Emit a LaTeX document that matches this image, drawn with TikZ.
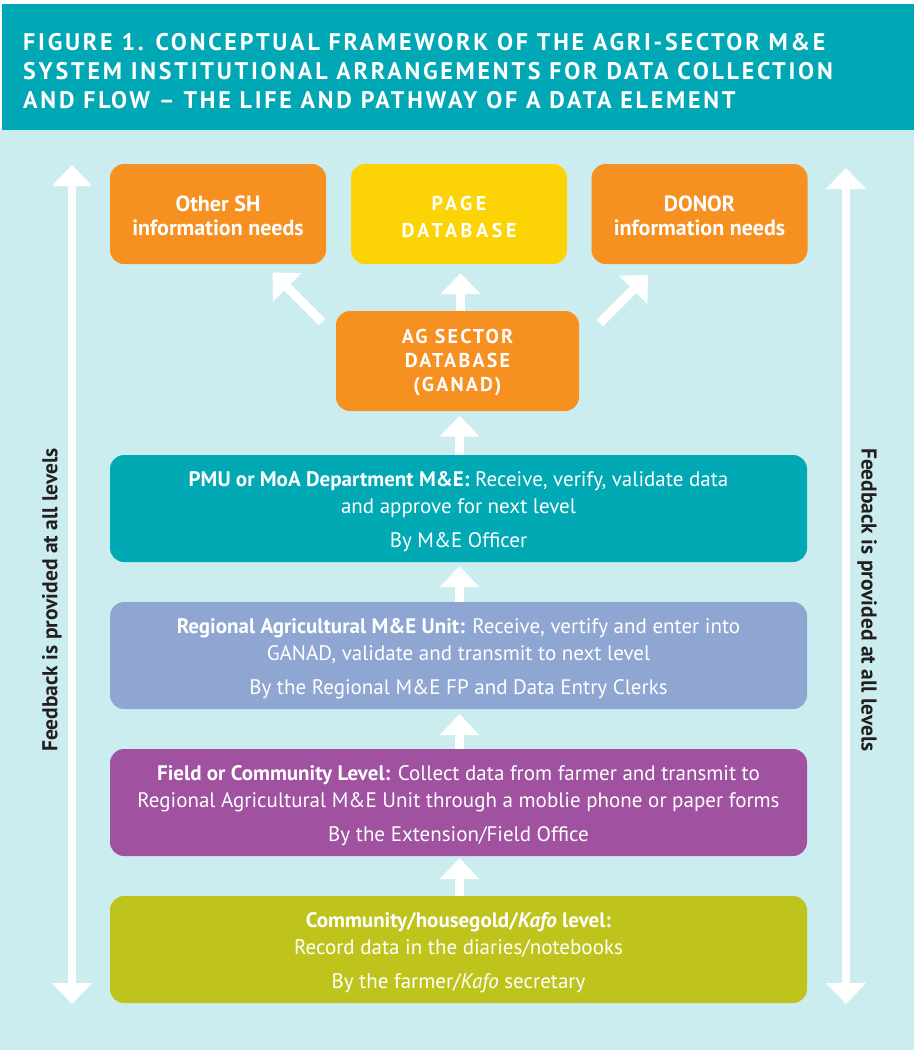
\documentclass[tikz,border=0pt]{standalone}
\usepackage{fontspec}
\setmainfont{PT Sans}
\newfontfamily\titlefont[LetterSpace=11.5]{PT Sans}
\newfontfamily\pagefont[LetterSpace=18]{PT Sans}
\newfontfamily\agfont[LetterSpace=11]{PT Sans}
\usetikzlibrary{arrows.meta}
\definecolor{hdr}{HTML}{00A8B5}
\definecolor{bgc}{HTML}{CCEDF0}
\definecolor{orng}{HTML}{F69020}
\definecolor{ylw}{HTML}{FCD405}
\definecolor{tealbox}{HTML}{00A9B4}
\definecolor{lav}{HTML}{8EA6D1}
\definecolor{purp}{HTML}{A0519F}
\definecolor{olive}{HTML}{BEC41C}
\definecolor{dtext}{HTML}{231F20}
\newcommand{\topstrut}[1]{\rule{0pt}{#1}}
\begin{document}
\begin{tikzpicture}[x=1pt,y=-1pt,
  box/.style={rounded corners=14pt, text=white, align=center, inner sep=0pt},
  topbox/.style={box, minimum width=216pt, minimum height=100pt, font=\bfseries\fontsize{22}{24}\selectfont},
  levelbox/.style={box, minimum width=697pt, minimum height=107pt, font=\fontsize{21}{27}\selectfont},
  bigarrow/.style={draw=white, line width=9pt, -{Triangle[width=39pt,length=21pt]}},
  sidearrow/.style={draw=white, line width=8pt, {Triangle[width=39pt,length=21pt]}-{Triangle[width=39pt,length=21pt]}},
  sidetext/.style={font=\bfseries\fontsize{21.5}{24}\selectfont, text=dtext, inner sep=0pt},
  titletext/.style={anchor=base west, text=white, inner sep=0pt, font=\titlefont\bfseries\fontsize{24}{29}\selectfont}
]
\useasboundingbox (0,0) rectangle (914,1050);
\fill[white] (0,0) rectangle (914,1050);
\fill[bgc] (0,130) rectangle (914,1050);
\fill[hdr] (2,4) rectangle (914,130);

% title
\node[titletext] (t1) at (23,50) {FIGURE 1. CONCEPTUAL FRAMEWORK OF THE AGRI-SECTOR M\&E};
\node[titletext] (t2) at (23,79) {SYSTEM INSTITUTIONAL ARRANGEMENTS FOR DATA COLLECTION};
\node[titletext] (t3) at (23,108) {AND FLOW – THE LIFE AND PATHWAY OF A DATA ELEMENT};

% top boxes
\node[topbox, fill=orng] (sh) at (218,214) {\topstrut{20pt}Other SH\\information needs};
\node[topbox, fill=ylw, font=\pagefont\bfseries\fontsize{20}{27}\selectfont] (page) at (459,214) {\topstrut{20pt}PAGE\\DATABASE};
\node[topbox, fill=orng] (donor) at (699.5,214) {\topstrut{20pt}DONOR\\information needs};
\node[box, fill=orng, minimum width=243pt, minimum height=100pt, font=\agfont\bfseries\fontsize{20}{24}\selectfont] (ag) at (457.5,361) {\topstrut{18pt}AG SECTOR\\DATABASE\\(GANAD)};

% level boxes
\node[levelbox, fill=tealbox] (pmu) at (458.5,508.5) {\topstrut{21pt}\textbf{PMU or MoA Department M\&E:} Receive, verify, validate data\\and approve for next level\\[7pt]By M\&E Officer};
\node[levelbox, fill=lav] (reg) at (458.5,655.5) {\topstrut{21pt}\textbf{Regional Agricultural M\&E Unit:} Receive, vertify and enter into\\GANAD, validate and transmit to next level\\[7pt]By the Regional M\&E FP and Data Entry Clerks};
\node[levelbox, fill=purp] (field) at (458.5,802.5) {\topstrut{21pt}\textbf{Field or Community Level:} Collect data from farmer and transmit to\\Regional Agricultural M\&E Unit through a moblie phone or paper forms\\[7pt]By the Extension/Field Office};
\node[levelbox, fill=olive] (comm) at (458.5,949.5) {\topstrut{21pt}\textbf{Community/housegold/\textit{Kafo} level:}\\Record data in the diaries/notebooks\\[7pt]By the farmer/\textit{Kafo} secretary};

% vertical arrows between levels
\draw[bigarrow, shorten >=9pt] (ag.north -| page.south) ++(1.5,0) coordinate (a1s) -- (page.south -| a1s);
\draw[bigarrow, shorten >=4.5pt] (pmu.north) ++(1,0) coordinate (a2s) -- (ag.south -| a2s);
\draw[bigarrow, shorten >=4pt] (reg.north) ++(1,0) coordinate (a3s) -- (pmu.south -| a3s);
\draw[bigarrow, shorten >=5pt] (field.north) ++(1,0) coordinate (a4s) -- (reg.south -| a4s);
\draw[bigarrow, shorten >=2pt] (comm.north) ++(1,0) coordinate (a5s) -- (field.south -| a5s);

% diagonal arrows
\coordinate (dl0) at (322,322);
\coordinate (dl1) at (272.5,272.5);
\coordinate (dr0) at (600,323);
\coordinate (dr1) at (648,275);
\draw[bigarrow] (dl0) -- (dl1);
\draw[bigarrow] (dr0) -- (dr1);

% side arrows
\coordinate (lt) at (72,165);
\coordinate (lb) at (72,1004);
\coordinate (rt) at (846,168);
\coordinate (rb) at (846,1004);
\draw[sidearrow] (lb) -- (lt);
\draw[sidearrow] (rb) -- (rt);

\node[sidetext, rotate=90] (fbl) at (52,600) {Feedback is provided at all levels};
\node[sidetext, rotate=-90] (fbr) at (867,600) {Feedback is provided at all levels};
\end{tikzpicture}
\end{document}
